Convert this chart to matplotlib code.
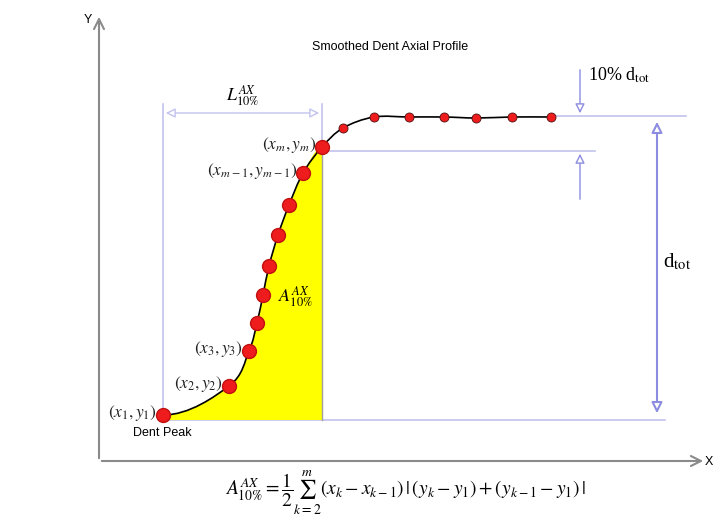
import matplotlib.pyplot as plt
from matplotlib.path import Path
from matplotlib.patches import PathPatch

plt.rcParams['mathtext.fontset'] = 'stix'
plt.rcParams['font.family'] = ['Liberation Sans', 'DejaVu Sans']

# profile points (picture coordinates, y grows downward)
px = [163, 229, 249, 257, 263, 269, 278, 289, 303, 322,
      343, 374, 409, 444, 476, 512, 551]
py = [415, 386, 351, 323, 295, 266, 235, 205, 173, 147,
      128, 117, 117, 117, 118, 117, 117]
m_idx = 9          # index of (x_m, y_m)
baseline = 420     # dent peak level
top_level = 116    # plateau level
ten_level = 151    # 10% d_tot below plateau

pt_labels = {0: r'$(x_1, y_1)$', 1: r'$(x_2, y_2)$', 2: r'$(x_3, y_3)$',
             8: r'$(x_{m-1}, y_{m-1})$', 9: r'$(x_m, y_m)$'}

blue = '#8c8ce0'
blue_lt = '#c2c2ee'
red = '#ee1c1c'


def smooth_path(xs, ys):
    # Catmull-Rom style cubic bezier through the points, flat start
    verts = [(xs[0], ys[0])]
    codes = [Path.MOVETO]
    n = len(xs)
    for i in range(n - 1):
        if i == 0:
            c1 = (xs[0] + (xs[1] - xs[0]) / 2.5, ys[0])
        else:
            c1 = (xs[i] + (xs[i + 1] - xs[i - 1]) / 6, ys[i] + (ys[i + 1] - ys[i - 1]) / 6)
        if i + 2 < n:
            c2 = (xs[i + 1] - (xs[i + 2] - xs[i]) / 6, ys[i + 1] - (ys[i + 2] - ys[i]) / 6)
        else:
            c2 = (xs[i + 1] - (xs[i + 1] - xs[i]) / 3, ys[i + 1])
        verts += [c1, c2, (xs[i + 1], ys[i + 1])]
        codes += [Path.CURVE4] * 3
    return verts, codes


fig = plt.figure(figsize=(7.19, 5.27), dpi=100)
ax = fig.add_axes([0, 0, 1, 1])
ax.set_xlim(0, 719)
ax.set_ylim(527, 0)
ax.axis('off')

# axes arrows
ax.annotate('', xy=(99, 14), xytext=(99, 461),
            arrowprops=dict(arrowstyle='->', color='#8a8a8a', lw=1.5, mutation_scale=18))
ax.annotate('', xy=(706, 461), xytext=(99, 461),
            arrowprops=dict(arrowstyle='->', color='#8a8a8a', lw=1.5, mutation_scale=18))
ax.text(88, 20, 'Y', fontsize=9, ha='center', va='center')
ax.text(709, 462, 'X', fontsize=9, ha='center', va='center')

# yellow area under the rising part
verts, codes = smooth_path(px[:m_idx + 1], py[:m_idx + 1])
area_verts = verts + [(px[m_idx], baseline), (px[0], baseline), (px[0], py[0])]
area_codes = codes + [Path.LINETO, Path.LINETO, Path.CLOSEPOLY]
ax.add_patch(PathPatch(Path(area_verts, area_codes), fc='#ffff00', ec='none', zorder=1))
ax.plot([px[m_idx], px[m_idx]], [py[m_idx], baseline], color='#a0a0a0', lw=1, zorder=1)

# guide lines
ax.plot([px[0], px[0]], [104, baseline], color=blue_lt, lw=1.2, zorder=0)
ax.plot([px[m_idx], px[m_idx]], [104, py[m_idx]], color=blue_lt, lw=1.2, zorder=0)
ax.plot([px[0], 665], [baseline, baseline], color=blue_lt, lw=1.2, zorder=0)
ax.plot([px[m_idx], 595], [ten_level, ten_level], color=blue_lt, lw=1.2, zorder=0)
ax.plot([556, 686], [top_level, top_level], color=blue_lt, lw=1.2, zorder=0)

# L10% dimension
ax.annotate('', xy=(px[0], 113), xytext=(px[m_idx], 113),
            arrowprops=dict(arrowstyle='<|-|>', color=blue_lt, fc='white', lw=1, mutation_scale=14))
ax.text((px[0] + px[m_idx]) / 2, 96, r'$L^{AX}_{10\%}$', fontsize=13, ha='center', va='center')

# 10% d_tot arrows
ax.annotate('', xy=(580, top_level), xytext=(580, 67),
            arrowprops=dict(arrowstyle='-|>', color=blue, fc='white', lw=1, mutation_scale=14))
ax.annotate('', xy=(580, ten_level), xytext=(580, 202),
            arrowprops=dict(arrowstyle='-|>', color=blue, fc='white', lw=1, mutation_scale=14))
ax.text(588, 75, r'10% d$_{\mathrm{tot}}$', fontsize=13, family='Liberation Serif',
        ha='left', va='center')

# d_tot arrow
ax.annotate('', xy=(657, 119), xytext=(657, 416),
            arrowprops=dict(arrowstyle='<|-|>', color=blue, fc='white', lw=1.5, mutation_scale=16))
ax.text(663, 262, r'd$_{\mathrm{tot}}$', fontsize=15, family='Liberation Serif',
        ha='left', va='center')

# profile curve and points
verts, codes = smooth_path(px, py)
ax.add_patch(PathPatch(Path(verts, codes), fc='none', ec='black', lw=1.2, zorder=2))
ax.plot(px[:m_idx + 1], py[:m_idx + 1], 'o', color=red, mec='#c01010', ms=10, zorder=3)
ax.plot(px[m_idx + 1:], py[m_idx + 1:], 'o', color=red, mec='#501010', mew=0.6, ms=6.5, zorder=3)

for i, lab in pt_labels.items():
    ax.text(px[i] - 6, py[i] - 2, lab, fontsize=12.5, ha='right', va='center', color='#222222')

ax.text(278, 297, r'$A^{AX}_{10\%}$', fontsize=13, ha='left', va='center')
ax.text(133, 433, 'Dent Peak', fontsize=9, ha='left', va='center')
ax.text(390, 47, 'Smoothed Dent Axial Profile', fontsize=9, ha='center', va='center')

# formula
ax.text(405, 493,
        r'$A^{AX}_{10\%}=\dfrac{1}{2}\sum_{k=2}^{m}(x_k-x_{k-1})\,|\,(y_k-y_1)+(y_{k-1}-y_1)\,|$',
        fontsize=14, ha='center', va='center')

fig.savefig('out.png', dpi=100)
